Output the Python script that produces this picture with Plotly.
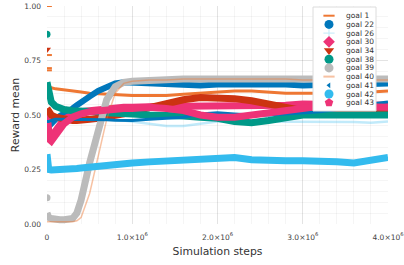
import plotly.graph_objects as go

# ---------------- data ----------------
steps = [0, 2e4, 5e4, 1e5, 1.5e5, 2e5, 3e5, 3.5e5, 4e5, 5e5, 6e5, 7e5, 8e5, 9e5, 1e6,
         1.2e6, 1.4e6, 1.6e6, 1.8e6, 2.0e6, 2.2e6, 2.4e6, 2.6e6, 2.8e6, 3.0e6,
         3.2e6, 3.4e6, 3.6e6, 3.8e6, 4.0e6]

goal1 = [0.635, 0.63, 0.625, 0.62, 0.618, 0.615, 0.61, 0.61, 0.605, 0.60, 0.598, 0.595, 0.592, 0.59, 0.59,
         0.59, 0.59, 0.595, 0.60, 0.605, 0.61, 0.61, 0.605, 0.60, 0.60, 0.60, 0.60, 0.60, 0.605, 0.61]
goal22 = [0.44, 0.45, 0.46, 0.48, 0.495, 0.505, 0.53, 0.545, 0.56, 0.585, 0.61, 0.63, 0.645, 0.65, 0.648,
          0.645, 0.64, 0.64, 0.635, 0.64, 0.64, 0.645, 0.64, 0.64, 0.635, 0.64, 0.64, 0.64, 0.645, 0.645]
goal26 = [0.50, 0.49, 0.49, 0.49, 0.49, 0.49, 0.485, 0.485, 0.485, 0.48, 0.48, 0.48, 0.478, 0.475, 0.47,
          0.46, 0.45, 0.45, 0.46, 0.47, 0.47, 0.47, 0.47, 0.47, 0.47, 0.47, 0.47, 0.468, 0.465, 0.47]
goal30 = [0.50, 0.43, 0.40, 0.43, 0.46, 0.48, 0.50, 0.51, 0.515, 0.52, 0.525, 0.53, 0.53, 0.535, 0.535,
          0.54, 0.54, 0.54, 0.54, 0.54, 0.54, 0.54, 0.54, 0.545, 0.55, 0.55, 0.55, 0.55, 0.545, 0.545]
goal34 = [0.53, 0.51, 0.50, 0.49, 0.485, 0.48, 0.475, 0.475, 0.475, 0.48, 0.485, 0.49, 0.495, 0.505, 0.515,
          0.535, 0.555, 0.57, 0.58, 0.58, 0.575, 0.565, 0.55, 0.53, 0.52, 0.515, 0.515, 0.52, 0.525, 0.53]
goal38 = [0.65, 0.60, 0.56, 0.54, 0.53, 0.525, 0.52, 0.52, 0.52, 0.518, 0.515, 0.51, 0.51, 0.505, 0.505,
          0.50, 0.50, 0.495, 0.49, 0.485, 0.47, 0.465, 0.475, 0.49, 0.50, 0.50, 0.50, 0.495, 0.498, 0.50]
goal39 = [0.05, 0.03, 0.025, 0.02, 0.02, 0.02, 0.025, 0.05, 0.11, 0.28, 0.44, 0.57, 0.63, 0.65, 0.655,
          0.66, 0.66, 0.665, 0.665, 0.665, 0.67, 0.67, 0.665, 0.665, 0.67, 0.67, 0.665, 0.665, 0.67, 0.665]
goal40 = [0.01, 0.01, 0.01, 0.01, 0.01, 0.01, 0.01, 0.015, 0.03, 0.14, 0.31, 0.48, 0.60, 0.645, 0.655,
          0.66, 0.66, 0.665, 0.665, 0.665, 0.665, 0.665, 0.665, 0.665, 0.66, 0.66, 0.66, 0.66, 0.66, 0.66]
goal41 = [0.47, 0.47, 0.475, 0.48, 0.48, 0.48, 0.48, 0.48, 0.48, 0.48, 0.48, 0.478, 0.476, 0.475, 0.475,
          0.48, 0.485, 0.49, 0.505, 0.51, 0.505, 0.50, 0.50, 0.505, 0.51, 0.515, 0.525, 0.535, 0.55, 0.56]
goal42 = [0.32, 0.25, 0.248, 0.248, 0.25, 0.25, 0.253, 0.255, 0.257, 0.262, 0.266, 0.27, 0.273, 0.277, 0.28,
          0.285, 0.29, 0.295, 0.30, 0.305, 0.305, 0.295, 0.29, 0.29, 0.29, 0.29, 0.285, 0.28, 0.29, 0.305]
goal43 = [0.42, 0.39, 0.38, 0.41, 0.44, 0.46, 0.49, 0.50, 0.505, 0.515, 0.52, 0.525, 0.525, 0.53, 0.53,
          0.535, 0.53, 0.52, 0.50, 0.49, 0.49, 0.50, 0.51, 0.525, 0.535, 0.54, 0.54, 0.54, 0.535, 0.535]

# early running-mean values recorded at the very first step
goal1_first = [1.0, 0.775, 0.715, 0.705]
goal34_first = [0.80]
goal38_first = [0.87]
goal39_first = [0.12]

labels = ["goal 1", "goal 22", "goal 26", "goal 30", "goal 34", "goal 38",
          "goal 39", "goal 40", "goal 41", "goal 42", "goal 43"]

x_tickvals = [0, 1e6, 2e6, 3e6, 4e6]
x_ticktext = ["0", "1.0×10<sup>6</sup>", "2.0×10<sup>6</sup>", "3.0×10<sup>6</sup>", "4.0×10<sup>6</sup>"]
y_tickvals = [0.0, 0.25, 0.5, 0.75, 1.0]

# ---------------- styles ----------------
ORANGE, BLUE, CYAN, MAGENTA, RED, TEAL, GREY = (
    "#EE7733", "#0077BB", "#33BBEE", "#EE3377", "#CC3311", "#009988", "#BBBBBB")

series = [
    # values, first, color, width, opacity, symbol, legend marker size
    (goal1, goal1_first, ORANGE, 3, 1.0, "line-ew", 8),
    (goal22, None, BLUE, 6, 1.0, "circle", 9),
    (goal26, None, CYAN, 2.5, 0.3, "cross-thin", 8),
    (goal30, None, MAGENTA, 7, 1.0, "diamond", 9),
    (goal34, goal34_first, RED, 7, 1.0, "triangle-down", 9),
    (goal38, goal38_first, TEAL, 7, 1.0, "circle", 9),
    (goal39, goal39_first, GREY, 7, 1.0, "circle", 9),
    (goal40, None, ORANGE, 1.5, 0.45, "line-ew", 8),
    (goal41, None, BLUE, 3, 1.0, "triangle-left", 5),
    (goal42, None, CYAN, 7, 1.0, "circle", 9),
    (goal43, None, MAGENTA, 7, 1.0, "pentagon", 9),
]

FONT = "DejaVu Sans"
fig = go.Figure()

for (vals, first, color, width, op, sym, msize), name in zip(series, labels):
    fig.add_trace(go.Scatter(x=steps, y=vals, mode="lines", name=name, showlegend=False,
                             line=dict(color=color, width=width), opacity=op,
                             hoverinfo="skip"))
    if first:
        is_line = sym.startswith("line")
        fig.add_trace(go.Scatter(
            x=[0] * len(first), y=first, mode="markers", showlegend=False,
            marker=dict(symbol=sym, size=7, color=color,
                        line=dict(color=color, width=2 if is_line else 0)),
            hoverinfo="skip"))

# ---------------- hand-drawn legend (overlay axes in pixel units) ----------------
LX0, LX1, LY0, LY1 = 313, 376, 7, 111
fig.add_trace(go.Scatter(x=[LX0, LX1, LX1, LX0, LX0], y=[LY0, LY0, LY1, LY1, LY0],
                         xaxis="x2", yaxis="y2", mode="lines", fill="toself",
                         fillcolor="white", line=dict(color="#dcdcdc", width=1),
                         showlegend=False, hoverinfo="skip"))
row_y = [15.7 + 8.7 * i for i in range(len(labels))]
for (vals, first, color, width, op, sym, msize), name, ry in zip(series, labels, row_y):
    is_line = sym.startswith("line") or sym.startswith("cross")
    fig.add_trace(go.Scatter(
        x=[329], y=[ry], xaxis="x2", yaxis="y2", mode="markers", showlegend=False,
        opacity=op,
        marker=dict(symbol=sym, size=msize, color=color,
                    line=dict(color=color, width=(2 if sym == "line-ew" else 1) if is_line else 0)),
        hoverinfo="skip"))
    fig.add_annotation(x=344, y=ry, xref="x2", yref="y2", text=name, showarrow=False,
                       xanchor="left", yanchor="middle",
                       font=dict(family=FONT, size=7.5, color="#333333"))

grid_major = "rgba(0,0,0,0.07)"
grid_minor = "rgba(0,0,0,0.04)"

fig.update_layout(
    width=404, height=265, autosize=False,
    margin=dict(l=47, r=16, t=6, b=41, pad=0, autoexpand=False),
    paper_bgcolor="white", plot_bgcolor="white",
    showlegend=False,
    font=dict(family=FONT, color="#444444"),
    xaxis=dict(range=[0, 4e6], tickvals=x_tickvals, ticktext=x_ticktext, automargin=False,
               showgrid=True, gridcolor=grid_major, gridwidth=1, zeroline=False,
               showline=False, ticks="", ticklabelstandoff=7, ticklabeloverflow="allow",
               tickfont=dict(family=FONT, size=7.5, color="#444444"),
               minor=dict(dtick=2e5, showgrid=True, gridcolor=grid_minor, gridwidth=1),
               title=dict(text="Simulation steps", standoff=6,
                          font=dict(family=FONT, size=10.8, color="#333333"))),
    yaxis=dict(range=[0, 1], tickvals=y_tickvals, tickformat=".2f", automargin=False,
               showgrid=True, gridcolor=grid_major, gridwidth=1, zeroline=False,
               showline=False, ticks="", ticklabelstandoff=5, ticklabeloverflow="allow",
               tickfont=dict(family=FONT, size=7.5, color="#444444"),
               minor=dict(dtick=0.05, showgrid=True, gridcolor=grid_minor, gridwidth=1),
               title=dict(text="Reward mean", standoff=2,
                          font=dict(family=FONT, size=10.8, color="#333333"))),
    xaxis2=dict(range=[47, 388], overlaying="x", anchor="y2", visible=False, fixedrange=True,
                automargin=False),
    yaxis2=dict(range=[224, 6], overlaying="y", anchor="x2", visible=False, fixedrange=True,
                automargin=False),
)

fig.write_html("out.html", config={"displayModeBar": False, "staticPlot": True},
               post_script="document.body.style.margin='0px';")
